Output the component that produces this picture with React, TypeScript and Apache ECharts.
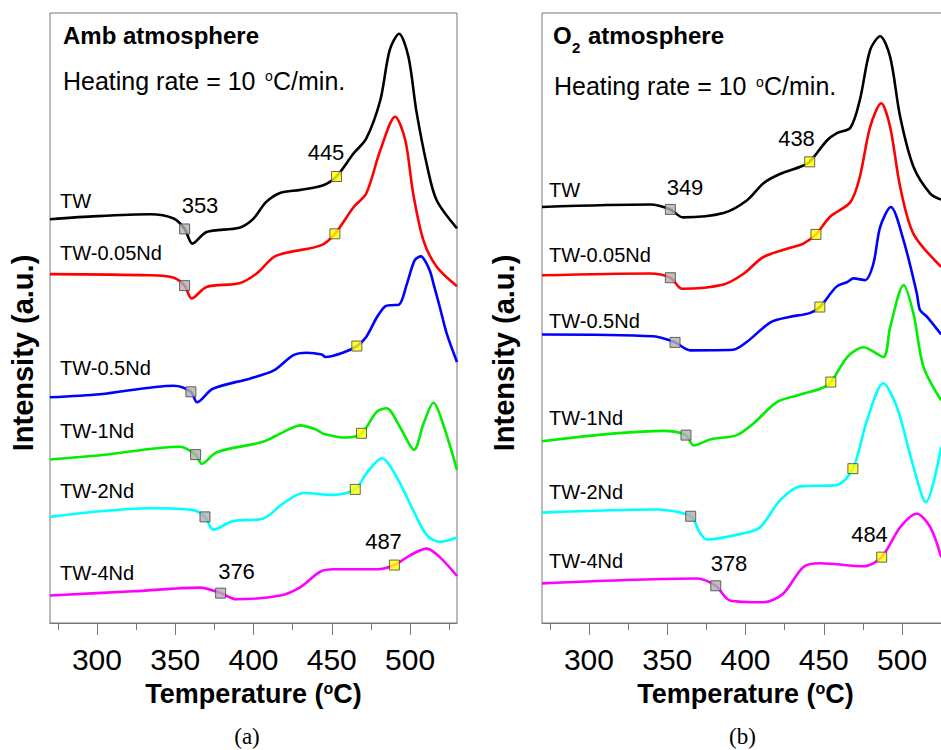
import React, { useEffect, useRef } from "react";
import * as echarts from "echarts";

// ---------- data ----------
const SAMPLES = ["TW", "TW-0.05Nd", "TW-0.5Nd", "TW-1Nd", "TW-2Nd", "TW-4Nd"];
const COLORS = ["#000000", "#ff0000", "#0000ff", "#00ee00", "#00ffff", "#ff00ff"];
const X_TICKS = [300, 350, 400, 450, 500];
const X_MINOR = [275, 325, 375, 425, 475, 525];

// (a) ambient atmosphere: [temperature °C, intensity a.u. (offset)]
const ambTW = [[270,66.2],[300,66.7],[334,67.0],[349,66.3],[356,64.6],[361,62.2],[370,64.1],[391,64.8],[400,66.3],[408,69.0],[417,70.5],[430,71.0],[445,71.8],[453,73.2],[464,77.0],[472,79.4],[481,85.7],[487,93.9],[493,96.6],[499,92.8],[504,84.0],[511,74.8],[517,69.3],[530,64.7]];
const ambNd005 = [[270,57.2],[334,57.0],[349,56.6],[356,55.3],[360.5,53.2],[370,55.1],[391,55.7],[402,57.3],[413,60.0],[423,60.8],[443,61.9],[452,63.8],[464,68.2],[472,70.4],[481,77.5],[490.5,83.0],[497,79.1],[502,70.4],[508.6,62.7],[517,58.4],[530,55.2]];
const ambNd05 = [[270,37.0],[302,37.5],[349,38.9],[360,37.9],[364,36.2],[374,38.4],[398,40.1],[413,41.4],[425.5,43.9],[434,44.3],[443.6,44.0],[446,43.6],[457,44.3],[466,45.4],[472,46.9],[479,50.2],[484,51.9],[488,52.1],[493,52.2],[498,55.6],[503,59.5],[507,60.1],[510,59.2],[513,57.5],[515,55.6],[519,51.8],[523.5,47.4],[530,42.8]];
const ambNd1 = [[270,26.8],[302,27.5],[353,28.9],[363,27.6],[367,26.1],[376.5,28.0],[406,29.7],[419,31.3],[430,32.4],[440,31.7],[445,31.0],[459.6,30.4],[469,31.1],[478.7,34.6],[485,35.2],[493.6,32.1],[502.6,28.4],[508.6,32.7],[515,36.1],[521,32.7],[530,25.1]];
const ambNd2 = [[270,17.4],[334,18.8],[361.6,18.5],[369,17.4],[374.3,15.3],[387,16.7],[406,17.1],[419,19.6],[432,21.3],[451,21.0],[465,21.9],[472,24.5],[482,27.0],[491.5,23.9],[502,18.5],[510.7,14.4],[519,13.3],[530,14.0]];
const ambNd4 = [[270,4.5],[323,5.2],[366,5.8],[379,4.9],[389,3.9],[417,4.5],[430,5.9],[442.5,8.4],[451,8.8],[479,8.8],[490,9.5],[500,11.1],[510.7,12.2],[519,10.8],[530,7.7]];

// (b) O2 atmosphere
const oxTW = [[270,68.2],[339,68.6],[352,67.8],[360,66.5],[386,67.2],[401,69.3],[411.5,72.1],[422,73.6],[435,74.8],[441,75.6],[452,79.1],[458.4,80.3],[467,81.2],[473,85.7],[479.6,93.9],[486,96.2],[492.4,92.8],[498.8,83.0],[507.3,74.8],[518,70.4],[525,69.4]];
const oxNd005 = [[270,57.0],[339,57.3],[352,56.6],[359.4,54.8],[386,55.5],[399,57.3],[411.5,60.0],[428.6,61.5],[437,62.2],[445,63.7],[454,66.6],[467,69.0],[473,73.1],[479.6,81.3],[486.7,85.2],[492.4,81.3],[498.8,71.5],[507.3,63.8],[525,58.4]];
const oxNd05 = [[270,47.3],[341,47.0],[355,46.0],[364.7,44.7],[392,44.8],[401,46.1],[416,49.3],[428.5,50.2],[441,50.8],[447.5,51.8],[458,55.1],[465,55.9],[469,56.5],[476.4,56.2],[481.7,58.9],[486,64.9],[492.8,68.2],[501,62.7],[509.4,54.1],[511.5,51.3],[516,50.2],[525,47.3]];
const oxNd1 = [[270,29.8],[347.7,31.5],[362,30.8],[366.8,29.1],[377.5,30.1],[394.5,30.8],[405,32.7],[420,36.2],[432.8,37.3],[447.7,38.4],[454.5,39.5],[465,43.6],[475.4,45.2],[488,43.6],[492.4,48.5],[501,55.4],[507.3,50.7],[513.7,42.0],[525,36.5]];
const oxNd2 = [[270,18.1],[343,18.6],[365,17.5],[371,14.7],[375.4,13.7],[398.8,14.7],[409.4,15.7],[422,20.1],[435,22.4],[458,22.6],[468.6,25.3],[477.6,33.2],[488,39.3],[496.7,35.4],[507.3,25.6],[515.2,19.8],[525,28.9]];
const oxNd4 = [[270,6.5],[369,7.3],[381,6.1],[390,3.7],[411.5,3.4],[424,4.8],[437,9.2],[447.7,9.8],[475.4,9.3],[487,10.8],[498.8,15.7],[509.4,17.9],[518,15.7],[525,10.8]];

// onset (grey) and characteristic (yellow) markers
const ambGrey = [[356,64.6],[356,55.3],[360,37.9],[363,27.6],[369,17.4],[379,4.9]];
const ambYellow = [[453,73.2],[452,63.8],[466,45.4],[469,31.1],[465,21.9],[490,9.5]];
const oxGrey = [[352,67.8],[352,56.6],[355,46.0],[362,30.8],[365,17.5],[381,6.1]];
const oxYellow = [[441,75.6],[445,63.7],[447.5,51.8],[454.5,39.5],[468.6,25.3],[487,10.8]];

const AMB_VALUES = ["353", "445", "487", "376"];
const OX_VALUES = ["349", "438", "378", "484"];

const AMB_SERIES = [ambTW, ambNd005, ambNd05, ambNd1, ambNd2, ambNd4];
const OX_SERIES = [oxTW, oxNd005, oxNd05, oxNd1, oxNd2, oxNd4];

// ---------- styling ----------
const SANS = "'Liberation Sans', Arial, sans-serif";
const SERIF = "'Liberation Serif', 'Times New Roman', serif";
const FRAME = "#777777";

function txt(text: string, x: number, y: number, size: number, extra: any = {}) {
  const { weight, align, family, rotation } = extra;
  return {
    type: "text",
    x,
    y,
    rotation: rotation || 0,
    silent: true,
    style: {
      text,
      fontSize: size,
      fontFamily: family || SANS,
      fontWeight: weight || "normal",
      fill: "#000",
      align: align || "left",
      verticalAlign: "middle",
    },
  };
}

function xAxes(gridIndex: number) {
  return [
    {
      type: "value",
      gridIndex,
      min: 270,
      max: 530,
      position: "bottom",
      axisLine: { show: true, lineStyle: { color: FRAME, width: 1 } },
      axisTick: { show: true, customValues: X_TICKS, length: 12, inside: false, lineStyle: { color: FRAME } },
      axisLabel: {
        show: true,
        customValues: X_TICKS,
        margin: 21,
        fontSize: 30,
        fontFamily: SANS,
        color: "#000",
      },
      splitLine: { show: false },
      name: "Temperature ({s|o}C)",
      nameLocation: "middle",
      nameGap: 57,
      nameTextStyle: {
        fontSize: 27,
        fontWeight: "bold",
        fontFamily: SANS,
        color: "#000",
        rich: {
          s: { fontSize: 16, fontWeight: "bold", fontFamily: SANS, color: "#000", verticalAlign: "top" },
        },
      },
    },
    {
      type: "value",
      gridIndex,
      min: 270,
      max: 530,
      position: "bottom",
      axisLine: { show: false },
      axisTick: { show: true, customValues: X_MINOR, length: 7, inside: false, lineStyle: { color: FRAME } },
      axisLabel: { show: false },
      splitLine: { show: false },
    },
  ];
}

function yAxis(gridIndex: number) {
  return {
    type: "value",
    gridIndex,
    min: 0,
    max: 100,
    axisLine: { show: false },
    axisTick: { show: false },
    axisLabel: { show: false },
    splitLine: { show: false },
  };
}

function panelSeries(data: number[][][], grey: number[][], yellow: number[][], xIdx: number, yIdx: number) {
  const lines = data.map((d, i) => ({
    type: "line",
    name: SAMPLES[i],
    xAxisIndex: xIdx,
    yAxisIndex: yIdx,
    data: d,
    smooth: 0.3,
    showSymbol: false,
    symbol: "none",
    lineStyle: { color: COLORS[i], width: 2.6 },
    z: 2,
  }));
  const markers = [
    { d: grey, c: "#b0b0b0" },
    { d: yellow, c: "#ffff00" },
  ].map((m) => ({
    type: "scatter",
    xAxisIndex: xIdx,
    yAxisIndex: yIdx,
    data: m.d,
    symbol: "rect",
    symbolSize: 10,
    itemStyle: { color: m.c, borderColor: "#404040", borderWidth: 1 },
    z: 5,
  }));
  return [...lines, ...markers];
}

export default function App() {
  const ref = useRef<HTMLDivElement>(null);

  useEffect(() => {
    if (!ref.current) return;
    const chart = echarts.init(ref.current, undefined, { renderer: "svg" });

    const ambLabelY = [200.5, 252.5, 368, 431, 490.5, 572.5];
    const oxLabelY = [189.5, 254.5, 320.5, 417.5, 491.5, 560.5];

    const graphics: any[] = [
      // panel (a)
      txt("Amb atmosphere", 63, 35, 24, { weight: "bold" }),
      txt("Heating rate = 10", 63, 81, 25),
      txt("o", 265, 76, 14),
      txt("C/min.", 273, 81, 25),
      ...SAMPLES.map((s, i) => txt(s, 60, ambLabelY[i], 20)),
      txt(AMB_VALUES[0], 200, 205, 22, { align: "center" }),
      txt(AMB_VALUES[1], 326, 152, 22, { align: "center" }),
      txt(AMB_VALUES[2], 383.5, 541.5, 22, { align: "center" }),
      txt(AMB_VALUES[3], 236.5, 571.5, 22, { align: "center" }),
      txt("Intensity (a.u.)", 22.5, 353, 29, { weight: "bold", align: "center", rotation: Math.PI / 2 }),
      txt("(a)", 247, 736, 23, { align: "center", family: SERIF }),
      // panel (b)
      txt("O", 553, 35, 24, { weight: "bold" }),
      txt("2", 572, 47, 15, { weight: "bold" }),
      txt("atmosphere", 588, 35, 24, { weight: "bold" }),
      txt("Heating rate = 10", 554, 86, 25),
      txt("o", 756, 82, 14),
      txt("C/min.", 764, 86, 25),
      ...SAMPLES.map((s, i) => txt(s, 549, oxLabelY[i], 20)),
      txt(OX_VALUES[0], 685, 187.5, 22, { align: "center" }),
      txt(OX_VALUES[1], 796.5, 138.5, 22, { align: "center" }),
      txt(OX_VALUES[2], 729, 563.5, 22, { align: "center" }),
      txt(OX_VALUES[3], 869.5, 534.5, 22, { align: "center" }),
      txt("Intensity (a.u.)", 504, 353, 29, { weight: "bold", align: "center", rotation: Math.PI / 2 }),
      txt("(b)", 742.5, 736, 23, { align: "center", family: SERIF }),
    ];

    chart.setOption({
      animation: false,
      backgroundColor: "#ffffff",
      grid: [
        { left: 50, top: 13, width: 407, height: 610, show: true, borderColor: FRAME, borderWidth: 1, backgroundColor: "transparent" },
        { left: 542, top: 13, width: 407, height: 610, show: true, borderColor: FRAME, borderWidth: 1, backgroundColor: "transparent" },
      ],
      xAxis: [...xAxes(0), ...xAxes(1)],
      yAxis: [yAxis(0), yAxis(1)],
      series: [
        ...panelSeries(AMB_SERIES, ambGrey, ambYellow, 0, 0),
        ...panelSeries(OX_SERIES, oxGrey, oxYellow, 2, 1),
      ],
      graphic: graphics,
    });

    return () => chart.dispose();
  }, []);

  return (
    <div style={{ position: "absolute", left: 0, top: 0, width: 941, height: 750, overflow: "hidden", background: "#fff" }}>
      <div ref={ref} style={{ width: 965, height: 750 }} />
    </div>
  );
}
